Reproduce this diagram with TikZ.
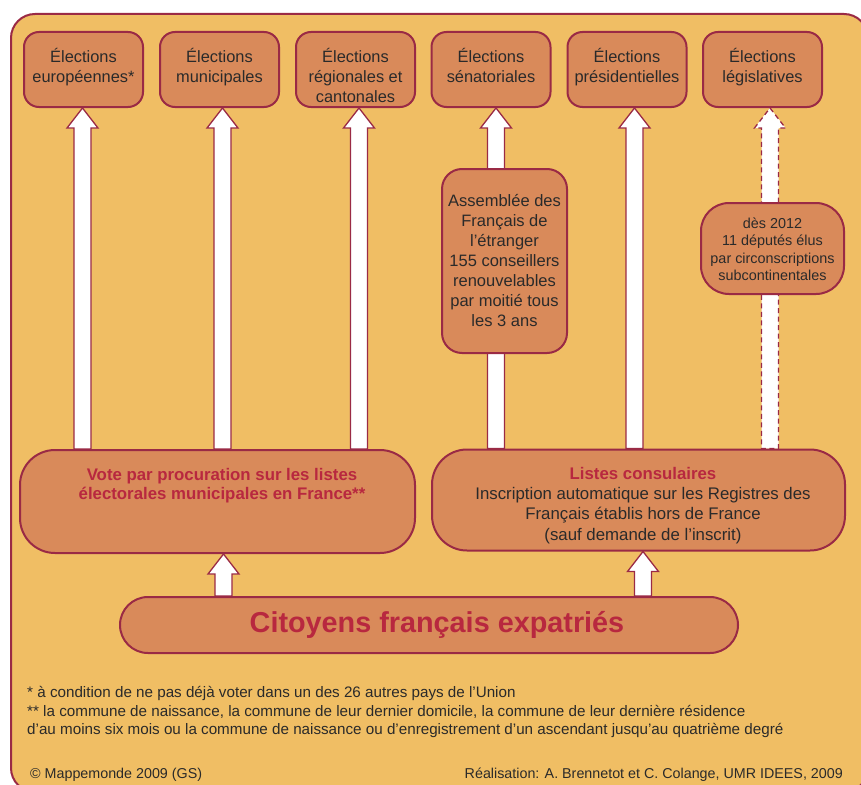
\documentclass[tikz,border=0pt]{standalone}
\usepackage{fontspec}
\setmainfont{Liberation Sans}
\usetikzlibrary{calc}
\definecolor{bgfill}{HTML}{F0BE64}
\definecolor{boxfill}{HTML}{D98A5A}
\definecolor{maroon}{HTML}{9A2A45}
\definecolor{crimson}{HTML}{B8283F}
\definecolor{txt}{HTML}{2A2A2A}
\pgfdeclarelayer{back}
\pgfdeclarelayer{mid}
\pgfsetlayers{back,mid,main}
\newcommand\fs[2]{\fontsize{#1}{#2}\selectfont}
\newcommand\topbox[3]{\begin{minipage}[c][#1][t]{#2}\centering #3\end{minipage}}
\newcommand\etxt[1]{\topbox{62pt}{117pt}{\vspace*{10pt}#1}}
\newcommand\blockarrow[3]{%
  \draw[#3] (#1) -- ($(#1)+(15.5,20)$) -- ($(#1)+(8.5,20)$) -- ($(#2)+(8.5,0)$)
   -- ($(#2)+(-8.5,0)$) -- ($(#1)+(-8.5,20)$) -- ($(#1)+(-15.5,20)$) -- cycle;}
\begin{document}
\begin{tikzpicture}[x=1pt,y=-1pt,
  box/.style={draw=maroon, line width=2pt, fill=boxfill, rounded corners=15pt, inner sep=0pt, text=txt},
  ebox/.style={box, minimum width=119pt, minimum height=75pt, font=\fs{16.4}{20}},
  arr/.style={draw=maroon, line width=1.3pt, fill=white, line join=miter},
  darr/.style={arr, dash pattern=on 5pt off 3.5pt},
  foot/.style={anchor=base west, inner sep=0pt, text=txt, font=\fs{15.2}{18}}]
\useasboundingbox (0,0) rectangle (861,784);
\begin{pgfonlayer}{back}
\fill[white] (0,0) rectangle (861,784);
\draw[draw=maroon, line width=2pt, fill=bgfill, rounded corners=24pt] (11,14) rectangle (868,792);
\end{pgfonlayer}
% top boxes
\node[ebox] (e1) at (83.5,69.5) {\etxt{Élections\\européennes*}};
\node[ebox] (e2) at (219.5,69.5) {\etxt{Élections\\municipales}};
\node[ebox] (e3) at (355.5,69.5) {\etxt{Élections\\régionales et\\cantonales}};
\node[ebox] (e4) at (491,69.5) {\etxt{Élections\\sénatoriales}};
\node[ebox] (e5) at (627,69.5) {\etxt{Élections\\présidentielles}};
\node[ebox] (e6) at (762.5,69.5) {\etxt{Élections\\législatives}};
% middle boxes
\node[box, rounded corners=35pt, minimum width=395pt, minimum height=103pt, font=\fs{16.8}{18.5}\bfseries]
  (vote) at (217.5,501.5) {\hspace*{9pt}\topbox{88pt}{380pt}{\vspace*{11pt}\color{crimson}Vote par procuration sur les listes\\électorales municipales en France**}};
\node[box, rounded corners=35pt, minimum width=413pt, minimum height=101pt, font=\fs{16.8}{20.3}]
  (lc) at (638.5,500) {\hspace*{9pt}\topbox{90pt}{395pt}{\vspace*{12pt}{\color{crimson}\bfseries Listes consulaires}\\Inscription automatique sur les Registres des\\Français établis hors de France\\(sauf demande de l’inscrit)}};
\node[box, rounded corners=20pt, minimum width=125pt, minimum height=184pt, align=center, font=\fs{16.5}{20}]
  (afe) at (504.5,261) {Assemblée des\\Français de\\l’étranger\\155 conseillers\\renouvelables\\par moitié tous\\les 3 ans};
\node[box, rounded corners=28pt, minimum width=143pt, minimum height=91pt, font=\fs{14.4}{17.6}]
  (d12) at (772.5,248.5) {\topbox{80pt}{140pt}{\vspace*{9pt}dès 2012\\11 députés élus\\par circonscriptions\\subcontinentales}};
\node[box, rounded corners=28pt, minimum width=618pt, minimum height=56pt, font=\fs{28.8}{30}\bfseries, text=crimson]
  (cit) at (429,625) {\hspace*{16pt}Citoyens français expatriés};
% arrows
\coordinate (t1) at ($(e1.south)+(-1,0)$);
\coordinate (t2) at ($(e2.south)+(3,0)$);
\coordinate (t3) at ($(e3.south)+(3.5,0)$);
\coordinate (t4) at ($(e4.south)+(5,0)$);
\coordinate (t5) at ($(e5.south)+(7.5,0)$);
\coordinate (t6) at ($(e6.south)+(7.5,0)$);
\coordinate (bt1) at ($(vote.south)+(6,0)$);
\coordinate (bt2) at ($(lc.south)+(4.5,0)$);
\begin{pgfonlayer}{mid}
\blockarrow{t1}{t1 |- vote.north}{arr}
\blockarrow{t2}{t2 |- vote.north}{arr}
\blockarrow{t3}{t3 |- vote.north}{arr}
\blockarrow{t4}{t4 |- lc.north}{arr}
\blockarrow{t5}{t5 |- lc.north}{arr}
\blockarrow{t6}{t6 |- lc.north}{darr}
\blockarrow{bt1}{bt1 |- cit.north}{arr}
\blockarrow{bt2}{bt2 |- cit.north}{arr}
\end{pgfonlayer}
% footnotes
\node[foot] (fn1) at (27,697) {* à condition de ne pas déjà voter dans un des 26 autres pays de l’Union};
\node[foot] (fn2) at (27,716) {** la commune de naissance, la commune de leur dernier domicile, la commune de leur dernière résidence};
\node[foot] (fn3) at (27,734) {d’au moins six mois ou la commune de naissance ou d’enregistrement d’un ascendant jusqu’au quatrième degré};
\node[foot, font=\fs{14.3}{18}] (cp) at (30,778) {© Mappemonde 2009 (GS)};
\node[foot, font=\fs{14.3}{18}, anchor=base east] (real) at (843,778) {Réalisation: A. Brennetot et C. Colange, UMR IDEES, 2009};
\end{tikzpicture}
\end{document}
